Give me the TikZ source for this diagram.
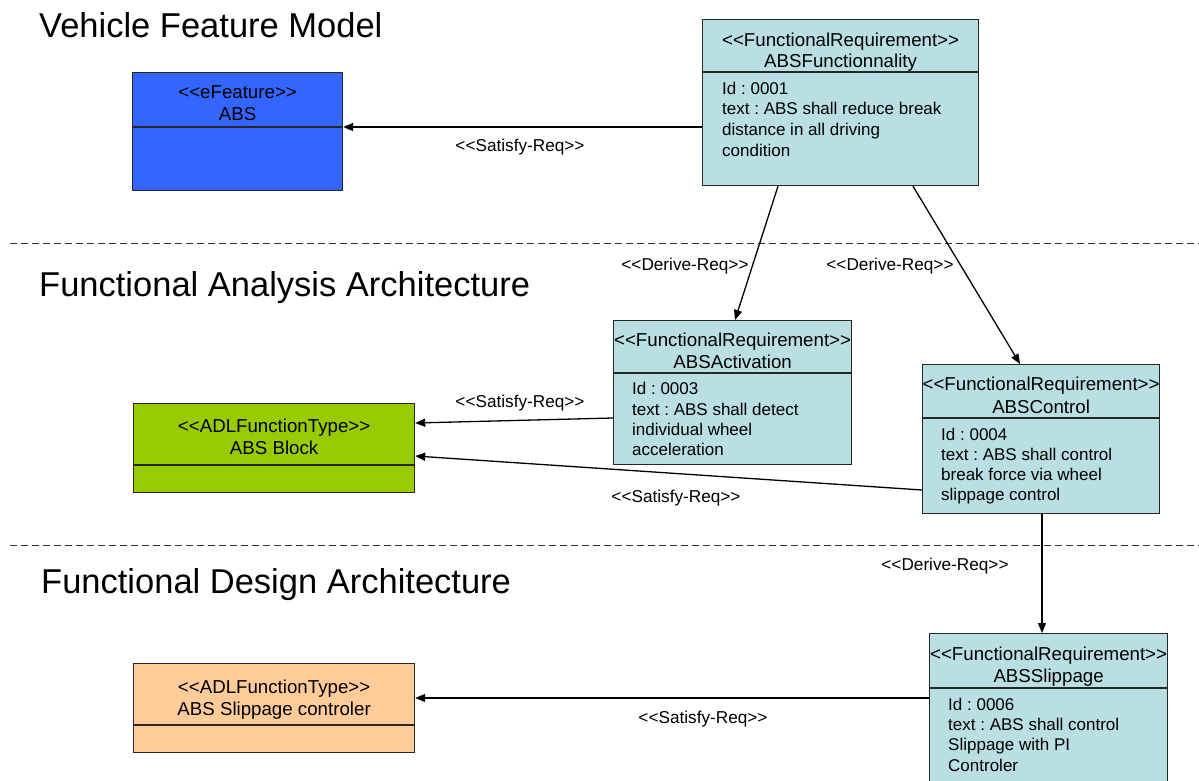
\documentclass[tikz,border=0pt]{standalone}
\usepackage{fontspec}
\setmainfont{Liberation Sans}
\usetikzlibrary{arrows.meta}

\definecolor{featblue}{RGB}{51,102,255}
\definecolor{blockgreen}{RGB}{153,204,0}
\definecolor{ctrlorange}{RGB}{255,204,153}
\definecolor{reqfill}{RGB}{185,223,227}

% stereotype brackets, kept apart so the font mapping leaves them as << >>
\newcommand\stereo[1]{<\kern0pt<#1>\kern0pt>}

\tikzset{
  umlbox/.style={draw=black!85, line width=1.2pt, anchor=north west, inner sep=0pt},
  divider/.style={draw=black!85, line width=1.1pt},
  hdr/.style={inner sep=0pt, text height=14pt, text depth=1.5pt,
              font=\frenchspacing\fontsize{18.7}{21}\selectfont},
  attr/.style={inner sep=0pt, anchor=west, text height=13.5pt, text depth=0.5pt,
               font=\frenchspacing\fontsize{17}{20}\selectfont},
  rel/.style={draw=black, line width=1.3pt, -{Triangle[length=10pt,width=8pt]}},
  rellabel/.style={inner sep=0pt, text height=13.5pt, text depth=1pt,
                   font=\frenchspacing\fontsize{17.2}{20}\selectfont},
  layertitle/.style={inner sep=0pt, anchor=west, text height=26pt, text depth=7pt,
                     font=\fontsize{34.5}{40}\selectfont},
  layerline/.style={draw=black!80, line width=0.9pt, dash pattern=on 7pt off 4pt}
}

\begin{document}
\begin{tikzpicture}[x=1pt, y=-1pt]
\useasboundingbox (0,0) rectangle (1199,781);

% layer separators
\coordinate (sepA1) at (10,243);  \coordinate (sepA2) at (1199,243);
\coordinate (sepB1) at (10,545);  \coordinate (sepB2) at (1199,545);
\draw[layerline] (sepA1) -- (sepA2);
\draw[layerline] (sepB1) -- (sepB2);

% layer titles
\node[layertitle] (tVFM) at (39,28)  {Vehicle Feature Model};
\node[layertitle] (tFAA) at (39,287) {Functional Analysis Architecture};
\node[layertitle] (tFDA) at (41,584) {Functional Design Architecture};

% ---- eFeature ABS
\node[umlbox, fill=featblue, minimum width=210pt, minimum height=118pt] (abs) at (132,72) {};
\draw[divider] (abs.west |- 0,127) -- (abs.east |- 0,127);
\node[hdr] (absS) at (abs.north |- 0,92)  {\stereo{eFeature}};
\node[hdr] (absN) at (abs.north |- 0,114) {ABS};

% ---- ABS Block
\node[umlbox, fill=blockgreen, minimum width=281pt, minimum height=89pt] (blk) at (133,403) {};
\draw[divider] (blk.west |- 0,465) -- (blk.east |- 0,465);
\node[hdr] (blkS) at (blk.north |- 0,426) {\stereo{ADLFunctionType}};
\node[hdr] (blkN) at (blk.north |- 0,448) {ABS Block};

% ---- ABS Slippage controler
\node[umlbox, fill=ctrlorange, minimum width=281pt, minimum height=89pt] (slc) at (133,663) {};
\draw[divider] (slc.west |- 0,725) -- (slc.east |- 0,725);
\node[hdr] (slcS) at (slc.north |- 0,687) {\stereo{ADLFunctionType}};
\node[hdr] (slcN) at (slc.north |- 0,709) {ABS Slippage controler};

% ---- ABSFunctionnality
\node[umlbox, fill=reqfill, minimum width=276pt, minimum height=166pt] (fr1) at (702,19) {};
\draw[divider] (fr1.west |- 0,72) -- (fr1.east |- 0,72);
\node[hdr] (fr1S) at (fr1.north |- 0,40) {\stereo{FunctionalRequirement}};
\node[hdr] (fr1N) at (fr1.north |- 0,61) {ABSFunctionnality};
\node[attr] (fr1a) at (722,88)  {Id : 0001};
\node[attr] (fr1b) at (722,108) {text : ABS shall reduce break};
\node[attr] (fr1c) at (722,129) {distance in all driving};
\node[attr] (fr1d) at (722,150) {condition};

% ---- ABSActivation
\node[umlbox, fill=reqfill, minimum width=238pt, minimum height=144pt] (act) at (613,320) {};
\draw[divider] (act.west |- 0,373) -- (act.east |- 0,373);
\node[hdr] (actS) at (act.north |- 0,340) {\stereo{FunctionalRequirement}};
\node[hdr] (actN) at (act.north |- 0,362) {ABSActivation};
\node[attr] (acta) at (632,388) {Id : 0003};
\node[attr] (actb) at (632,409) {text : ABS shall detect};
\node[attr] (actc) at (632,429) {individual wheel};
\node[attr] (actd) at (632,449) {acceleration};

% ---- ABSControl
\node[umlbox, fill=reqfill, minimum width=237pt, minimum height=149pt] (ctl) at (922,364) {};
\draw[divider] (ctl.west |- 0,418) -- (ctl.east |- 0,418);
\node[hdr] (ctlS) at (ctl.north |- 0,384) {\stereo{FunctionalRequirement}};
\node[hdr] (ctlN) at (ctl.north |- 0,407) {ABSControl};
\node[attr] (ctla) at (941,434) {Id : 0004};
\node[attr] (ctlb) at (941,454) {text : ABS shall control};
\node[attr] (ctlc) at (941,474) {break force via wheel};
\node[attr] (ctld) at (941,494) {slippage control};

% ---- ABSSlippage
\node[umlbox, fill=reqfill, minimum width=238pt, minimum height=160pt] (slp) at (929,633) {};
\draw[divider] (slp.west |- 0,688) -- (slp.east |- 0,688);
\node[hdr] (slpS) at (slp.north |- 0,654) {\stereo{FunctionalRequirement}};
\node[hdr] (slpN) at (slp.north |- 0,676) {ABSSlippage};
\node[attr] (slpa) at (948,704) {Id : 0006};
\node[attr] (slpb) at (948,724) {text : ABS shall control};
\node[attr] (slpc) at (948,744) {Slippage with PI};
\node[attr] (slpd) at (948,765) {Controler};

% ---- relations
\draw[rel] (fr1.west |- 0,127) -- (abs.east |- 0,127);
\node[rellabel] (l1) at (520,145) {\stereo{Satisfy-Req}};

\draw[rel] ([xshift=76pt]fr1.south west) -- ([xshift=122pt]act.north west);
\node[rellabel] (l2) at (685,264) {\stereo{Derive-Req}};

\draw[rel] ([xshift=211pt]fr1.south west) -- ([xshift=98pt]ctl.north west);
\node[rellabel] (l3) at (890,264) {\stereo{Derive-Req}};

\draw[rel] (act.west |- 0,418) -- (blk.east |- 0,423);
\node[rellabel] (l4) at (520,401) {\stereo{Satisfy-Req}};

\draw[rel] (ctl.west |- 0,490) -- (blk.east |- 0,456);
\node[rellabel] (l5) at (676,496) {\stereo{Satisfy-Req}};

\draw[rel] ([xshift=120pt]ctl.south west) -- ([xshift=113pt]slp.north west);
\node[rellabel] (l6) at (945,564) {\stereo{Derive-Req}};

\draw[rel] (slp.west |- 0,698) -- (slc.east |- 0,698);
\node[rellabel] (l7) at (703,717) {\stereo{Satisfy-Req}};

\end{tikzpicture}
\end{document}
